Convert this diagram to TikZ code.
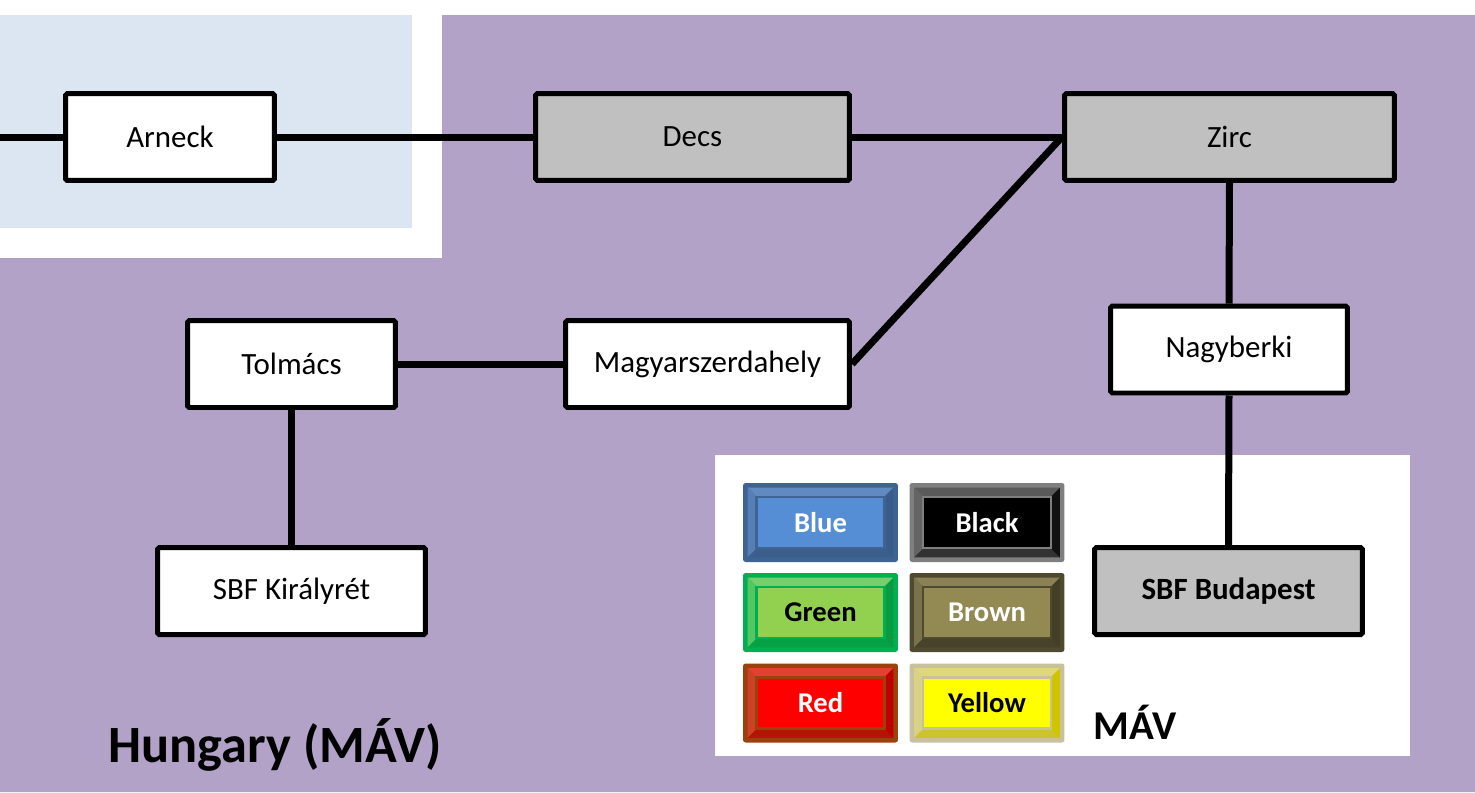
\documentclass[tikz,border=0pt]{standalone}
\usepackage{fontspec}
\setmainfont{Carlito}
\usepackage{xcolor}
\usetikzlibrary{positioning,calc}

\definecolor{mavpurple}{HTML}{B3A2C7}
\definecolor{dbblue}{HTML}{DCE6F2}
\definecolor{hubgray}{HTML}{C0C0C0}
% legend colours: frame / face / light bevel / dark bevel
\definecolor{blueframe}{HTML}{3F6494}\definecolor{blueface}{HTML}{558ED5}
\definecolor{bluelight}{HTML}{6E9AD4}\definecolor{bluedark}{HTML}{3A5C8A}
\definecolor{blackframe}{HTML}{7F7F7F}\definecolor{blackface}{HTML}{000000}
\definecolor{blacklight}{HTML}{4A4A4A}\definecolor{blackdark}{HTML}{111111}
\definecolor{greenframe}{HTML}{00B050}\definecolor{greenface}{HTML}{92D050}
\definecolor{greenlight}{HTML}{A9DC78}\definecolor{greendark}{HTML}{0A9A40}
\definecolor{brownframe}{HTML}{4F4A2F}\definecolor{brownface}{HTML}{938953}
\definecolor{brownlight}{HTML}{A39A66}\definecolor{browndark}{HTML}{433F27}
\definecolor{redframe}{HTML}{9A420C}\definecolor{redface}{HTML}{FF0000}
\definecolor{redlight}{HTML}{FF4040}\definecolor{reddark}{HTML}{C00000}
\definecolor{yellowframe}{HTML}{C9C19C}\definecolor{yellowface}{HTML}{FFFF00}
\definecolor{yellowlight}{HTML}{E8E070}\definecolor{yellowdark}{HTML}{CFC400}

% bevelled key of the legend: name, position, colour prefix, text colour, label
\newcommand{\legendkey}[5]{%
	\node[keyframe, fill=#3frame] (#1) at (#2) {};
	\fill[#3light!70!#3frame] ([shift={(5,5)}]#1.north west) -- ([shift={(-5,5)}]#1.north east)
	-- ([shift={(-14,14)}]#1.north east) -- ([shift={(14,14)}]#1.north west) -- cycle;
	\fill[#3light!50!#3frame] ([shift={(5,5)}]#1.north west) -- ([shift={(14,14)}]#1.north west)
	-- ([shift={(14,-14)}]#1.south west) -- ([shift={(5,-5)}]#1.south west) -- cycle;
	\fill[#3dark!70!#3frame] ([shift={(5,-5)}]#1.south west) -- ([shift={(-5,-5)}]#1.south east)
	-- ([shift={(-14,-14)}]#1.south east) -- ([shift={(14,-14)}]#1.south west) -- cycle;
	\fill[#3dark] ([shift={(-5,5)}]#1.north east) -- ([shift={(-14,14)}]#1.north east)
	-- ([shift={(-14,-14)}]#1.south east) -- ([shift={(-5,-5)}]#1.south east) -- cycle;
	\node[keyface, fill=#3face, draw=#3frame, text=#4] (#1-face) at (#1) {#5};
}

\begin{document}
\begin{tikzpicture}[x=0.02cm,y=-0.02cm]
	
	\tikzset{
		station/.style={draw=black, line width=0.1cm, fill=white, rounded corners=1pt,
			minimum height=1.74cm, font=\fontsize{17.6}{20}\selectfont},
		hub/.style={station, fill=hubgray},
		link/.style={line width=0.14cm},
		keyframe/.style={rounded corners=1.5pt, minimum width=3.1cm, minimum height=1.58cm, inner sep=0pt},
		keyface/.style={line width=1.5pt, minimum width=2.56cm, minimum height=1.02cm, inner sep=0pt,
			font=\bfseries\fontsize{16.3}{18}\selectfont}
	}
	
	% ===== BACKGROUND =====
	\useasboundingbox (0,0) rectangle (1475,792);
	\fill[white] (0,0) rectangle (1475,792);
	\fill[mavpurple] (442,15) -- (1475,15) -- (1475,792) -- (0,792) -- (0,258) -- (442,258) -- cycle;
	\fill[dbblue] (0,15) rectangle (412,228);
	\fill[white] (715,455) rectangle (1410,756);
	
	% ===== STATIONS =====
	\node[station, minimum width=4.18cm] (arneck) at (170,137) {Arneck};
	\node[hub, minimum width=6.28cm] (decs) at (692.5,137) {Decs};
	\node[hub, minimum width=6.6cm] (zirc) at (1229.5,137) {Zirc};
	\node[station, minimum width=5.68cm] (magyar) at (707.5,364) {Magyarszerdahely};
	\node[station, minimum width=4.16cm] (tolmacs) at (291.5,364) {Tolmács};
	\node[station, minimum width=5.36cm] (kiralyret) at (291.5,591) {SBF Királyrét};
	\node[station, minimum width=4.74cm] (nagyberki) at (1229,349.5) {Nagyberki};
	\node[hub, minimum width=5.36cm, font=\bfseries\fontsize{17.6}{20}\selectfont] (budapest) at (1228.5,591) {SBF Budapest};
	
	% ===== LINKS =====
	\coordinate (west) at (0,137);
	\draw[link] (west) -- (arneck.west);
	\draw[link] (arneck.east) -- (decs.west);
	\draw[link] (decs.east) -- (zirc.west);
	\draw[link] (magyar.east) -- (zirc.west);
	\draw[link] (tolmacs.east) -- (magyar.west);
	\draw[link] (tolmacs.south) -- (kiralyret.north);
	\draw[link] (zirc.south) -- (nagyberki.north);
	\draw[link] (nagyberki.south) -- (budapest.north);
	
	% ===== LEGEND =====
	\legendkey{kblue}{820.5,522.5}{blue}{white}{Blue}
	\legendkey{kblack}{987,522.5}{black}{white}{Black}
	\legendkey{kgreen}{820.5,612.5}{green}{black}{Green}
	\legendkey{kbrown}{987,612.5}{brown}{white}{Brown}
	\legendkey{kred}{820.5,703}{red}{white}{Red}
	\legendkey{kyellow}{987,703}{yellow}{black}{Yellow}
	
	% ===== TITLES =====
	\node[font=\bfseries\fontsize{23.3}{26}\selectfont] (mav) at (1135,722) {MÁV};
	\node[font=\bfseries\fontsize{29.8}{33}\selectfont] (hungary) at (275,745) {Hungary (MÁV)};
	
\end{tikzpicture}
\end{document}
